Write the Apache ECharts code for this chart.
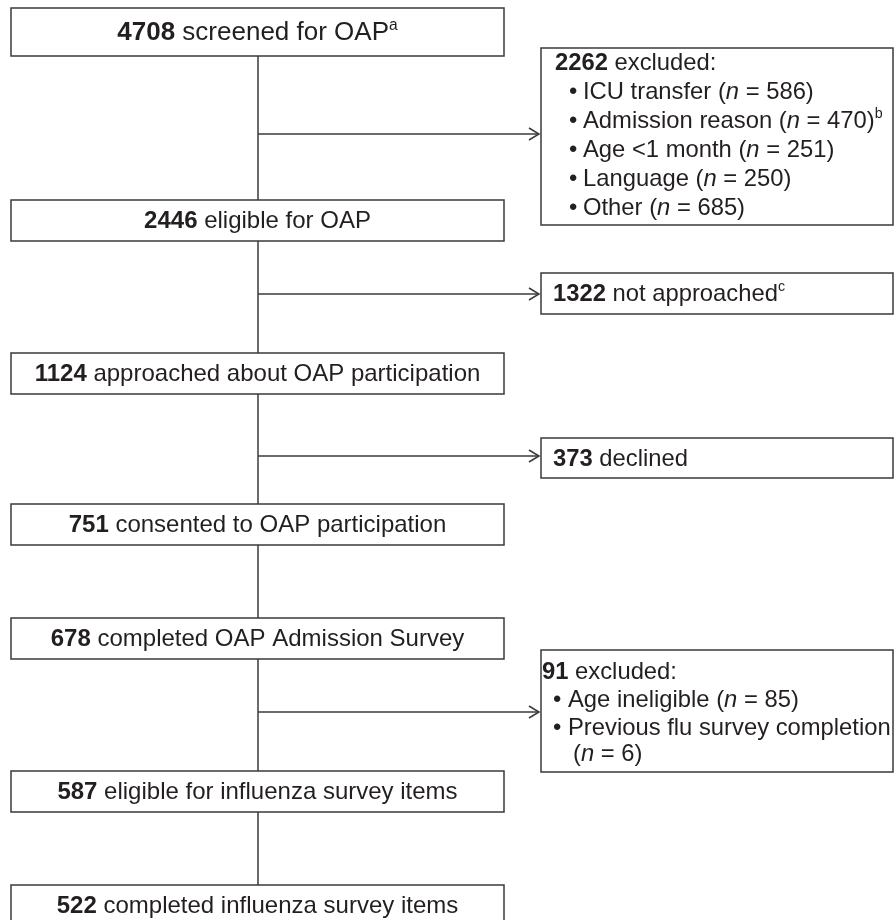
<!DOCTYPE html>
<html>
<head>
<meta charset="utf-8">
<script src="https://cdn.jsdelivr.net/npm/echarts@6/dist/echarts.min.js"></script>
<style>html,body{margin:0;padding:0;background:#fff}#c{width:895px;height:920px}</style>
</head>
<body>
<div id="c"></div>
<script>
// ---- data ----
const stageCounts = [4708, 2446, 1124, 751, 678, 587, 522];
const stageLabels = ['screened for OAP', 'eligible for OAP', 'approached about OAP participation',
  'consented to OAP participation', 'completed OAP Admission Survey',
  'eligible for influenza survey items', 'completed influenza survey items'];
const stageNotes = ['a', '', '', '', '', '', ''];
const lossCounts = [2262, 1322, 373, 91];
const lossLabels = ['excluded:', 'not approached', 'declined', 'excluded:'];
const lossNotes = ['', 'c', '', ''];
const screenReasons = ['ICU transfer', 'Admission reason', 'Age <1 month', 'Language', 'Other'];
const screenReasonN = [586, 470, 251, 250, 685];
const screenReasonNotes = ['', 'b', '', '', ''];
const fluReasons = ['Age ineligible', 'Previous flu survey completion'];
const fluReasonN = [85, 6];

// ---- layout (units of the hidden axes) ----
const mainX = [11, 504];
const mainY = [[8, 56], [200, 241], [353, 394], [504, 545], [618, 659], [771, 812], [885, 926]];
const sideX = [541, 893];
const sideY = [[48, 225], [273, 314], [438, 478], [650, 772]];
const arrowY = [134, 294, 456, 712];
const spineX = 258;

const FF = '"Liberation Sans", Arial, Helvetica, sans-serif';
const INK = '#231f20';
const LINE = '#3a3a3a';
const FS_TOP = 26, FS_MAIN = 24, FS_SIDE = 23.8;

function rich(fs) {
  return {
    b: { fontFamily: FF, fontSize: fs, fontWeight: 'bold', fill: INK, lineHeight: fs * 1.2 },
    r: { fontFamily: FF, fontSize: fs, fill: INK, lineHeight: fs * 1.2 },
    i: { fontFamily: FF, fontSize: fs, fontStyle: 'italic', fill: INK, lineHeight: fs * 1.2 },
    s: { fontFamily: FF, fontSize: fs * 0.6, fill: INK, verticalAlign: 'top', lineHeight: fs * 1.2 }
  };
}
function noteTok(n) { return n ? '{s|' + n + '}' : ''; }

function renderMain(params, api) {
  const i = api.value(0);
  const p0 = api.coord([mainX[0], mainY[i][0]]);
  const p1 = api.coord([mainX[1], mainY[i][1]]);
  const fs = i === 0 ? FS_TOP : FS_MAIN;
  return {
    type: 'group', children: [
      { type: 'rect', shape: { x: p0[0], y: p0[1], width: p1[0] - p0[0], height: p1[1] - p0[1] },
        style: { fill: '#fff', stroke: LINE, lineWidth: 1.5 } },
      { type: 'text', style: {
          x: (p0[0] + p1[0]) / 2, y: (p0[1] + p1[1]) / 2 + 1, align: 'center', verticalAlign: 'middle',
          fontFamily: FF, fontSize: fs, fill: INK,
          text: '{b|' + stageCounts[i] + '}{r| ' + stageLabels[i] + '}' + noteTok(stageNotes[i]),
          rich: rich(fs) } }
    ]
  };
}

function renderSide(params, api) {
  const k = api.value(0);
  const p0 = api.coord([sideX[0], sideY[k][0]]);
  const p1 = api.coord([sideX[1], sideY[k][1]]);
  const children = [
    { type: 'rect', shape: { x: p0[0], y: p0[1], width: p1[0] - p0[0], height: p1[1] - p0[1] },
      style: { fill: '#fff', stroke: LINE, lineWidth: 1.5 } }
  ];
  const head = '{b|' + lossCounts[k] + '}{r| ' + lossLabels[k] + '}' + noteTok(lossNotes[k]);
  const R = rich(FS_SIDE);
  const txt = (x, y, t) => ({ type: 'text', style: { x: x, y: y, align: 'left', verticalAlign: 'middle',
    fontFamily: FF, fontSize: FS_SIDE, fill: INK, text: t, rich: R } });
  if (k === 0) {
    const top = api.coord([0, 63])[1];
    children.push(txt(p0[0] + 14, top, head));
    screenReasons.forEach((r, j) => {
      const y = api.coord([0, 63 + (j + 1) * 29])[1];
      children.push(txt(p0[0] + 28, y, '{r|•}'));
      children.push(txt(p0[0] + 42, y, '{r|' + r + ' (}{i|n}{r| = ' + screenReasonN[j] + ')}' + noteTok(screenReasonNotes[j])));
    });
  } else if (k === 3) {
    const ys = [672, 700, 728, 754];
    children.push(txt(p0[0] + 1, api.coord([0, ys[0]])[1], head));
    children.push(txt(p0[0] + 12, api.coord([0, ys[1]])[1], '{r|•}'));
    children.push(txt(p0[0] + 27, api.coord([0, ys[1]])[1], '{r|' + fluReasons[0] + ' (}{i|n}{r| = ' + fluReasonN[0] + ')}'));
    children.push(txt(p0[0] + 12, api.coord([0, ys[2]])[1], '{r|•}'));
    children.push(txt(p0[0] + 27, api.coord([0, ys[2]])[1], '{r|' + fluReasons[1] + '}'));
    children.push(txt(p0[0] + 32, api.coord([0, ys[3]])[1], '{r|(}{i|n}{r| = ' + fluReasonN[1] + ')}'));
  } else {
    children.push(txt(p0[0] + 12, (p0[1] + p1[1]) / 2 + 1, head));
  }
  return { type: 'group', children: children };
}

function renderLinks(params, api) {
  const idx = api.value(0);
  const st = { stroke: LINE, lineWidth: 1.5, fill: null };
  if (idx < mainY.length - 1) {
    const a = api.coord([spineX, mainY[idx][1]]);
    const b = api.coord([spineX, mainY[idx + 1][0]]);
    return { type: 'line', shape: { x1: a[0], y1: a[1], x2: b[0], y2: b[1] }, style: st };
  }
  const k = idx - (mainY.length - 1);
  const a = api.coord([spineX, arrowY[k]]);
  const b = api.coord([sideX[0] - 2, arrowY[k]]);
  return { type: 'group', children: [
    { type: 'line', shape: { x1: a[0], y1: a[1], x2: b[0], y2: b[1] }, style: st },
    { type: 'polyline', shape: { points: [[b[0] - 10, b[1] - 6], [b[0], b[1]], [b[0] - 10, b[1] + 6]] }, style: st }
  ] };
}

const linkData = [];
for (let i = 0; i < stageCounts.length - 1; i++) linkData.push([i, stageCounts[i + 1]]);
lossCounts.forEach((v, k) => linkData.push([stageCounts.length - 1 + k, v]));

const chart = echarts.init(document.getElementById('c'), null, { renderer: 'canvas' });
chart.setOption({
  animation: false,
  backgroundColor: '#fff',
  grid: { left: 0, right: 0, top: 0, bottom: 0 },
  xAxis: { type: 'value', min: 0, max: 895, show: false },
  yAxis: { type: 'value', min: 0, max: 920, inverse: true, show: false },
  series: [
    { type: 'custom', renderItem: renderLinks, data: linkData, silent: true, z: 1 },
    { type: 'custom', renderItem: renderMain, data: stageCounts.map((v, i) => [i, v]), silent: true, z: 2 },
    { type: 'custom', renderItem: renderSide, data: lossCounts.map((v, k) => [k, v]), silent: true, z: 2 }
  ]
});
</script>
</body>
</html>
